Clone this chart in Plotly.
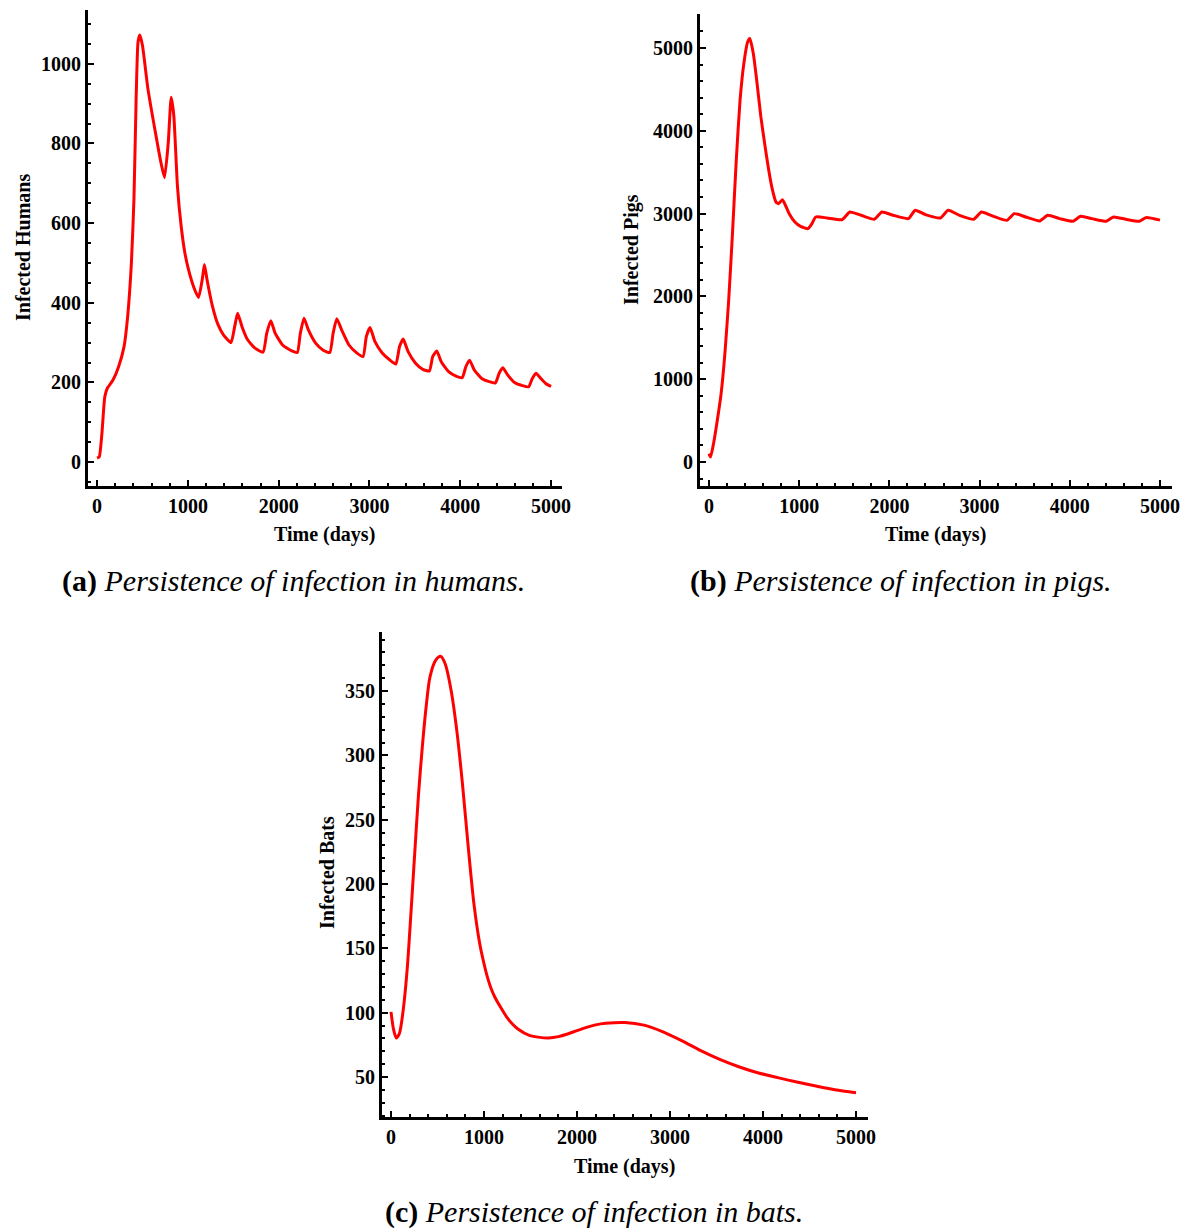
import plotly.graph_objects as go

# ---------------- data ----------------
t_humans = [0, 24, 53, 85, 114, 175, 236, 297, 337, 378, 406, 430, 451, 471, 500, 560, 642, 703, 743,
            784, 816, 845, 885, 926, 967, 1007, 1068, 1117, 1158, 1182, 1211, 1271, 1332, 1393, 1475,
            1515, 1548, 1596, 1658, 1739, 1828, 1868, 1913, 1962, 2043, 2145, 2205, 2238, 2279, 2327,
            2409, 2490, 2563, 2599, 2640, 2693, 2774, 2856, 2929, 2965, 3006, 3059, 3140, 3221, 3290,
            3331, 3371, 3424, 3505, 3587, 3660, 3696, 3741, 3790, 3871, 3952, 4021, 4062, 4102, 4155,
            4236, 4318, 4387, 4428, 4468, 4521, 4602, 4683, 4753, 4793, 4834, 4887, 4948, 5000]
infected_humans = [10, 13, 71, 164, 186, 206, 239, 290, 366, 500, 660, 912, 1055, 1072, 1046, 937, 828,
                   752, 714, 802, 916, 870, 693, 592, 525, 483, 437, 413, 458, 496, 458, 391, 345, 319,
                   300, 340, 374, 340, 307, 286, 276, 323, 355, 323, 294, 279, 275, 323, 361, 332, 298,
                   281, 275, 323, 360, 332, 294, 275, 265, 315, 338, 303, 274, 257, 246, 290, 309, 278,
                   249, 233, 229, 265, 279, 252, 227, 216, 212, 240, 256, 231, 210, 202, 199, 223, 237,
                   219, 199, 192, 189, 210, 223, 210, 196, 190]

t_pigs = [0, 17, 50, 92, 134, 176, 218, 260, 302, 344, 386, 428, 453, 491, 533, 575, 617, 659, 700, 742,
          772, 814, 847, 889, 952, 1015, 1099, 1141, 1183, 1309, 1477, 1560, 1686, 1833, 1916, 2043,
          2210, 2286, 2399, 2567, 2651, 2777, 2936, 3020, 3154, 3301, 3385, 3511, 3666, 3754, 3888,
          4035, 4119, 4245, 4404, 4484, 4622, 4769, 4845, 5000]
infected_pigs = [101, 60, 221, 503, 825, 1308, 1952, 2758, 3643, 4368, 4811, 5072, 5113, 4932, 4570,
                 4167, 3845, 3543, 3301, 3140, 3120, 3168, 3100, 2999, 2899, 2846, 2818, 2878, 2959,
                 2947, 2927, 3019, 2979, 2931, 3019, 2979, 2939, 3040, 2987, 2947, 3040, 2979, 2931,
                 3019, 2967, 2918, 2999, 2959, 2911, 2979, 2939, 2907, 2967, 2939, 2907, 2959, 2931,
                 2907, 2951, 2921]

t_bats = [0, 29, 58, 90, 131, 173, 214, 255, 296, 337, 378, 419, 481, 534, 583, 645, 706, 768, 830, 891,
          953, 1000, 1035, 1075, 1117, 1180, 1241, 1300, 1364, 1487, 1600, 1693, 1800, 1898, 2000, 2103,
          2200, 2309, 2514, 2720, 2925, 3130, 3336, 3541, 3747, 3952, 4158, 4363, 4568, 4774, 5000]
infected_bats = [100.6, 86.4, 80.3, 83.8, 102, 133, 177, 224, 270, 307, 338, 361, 374, 377, 371, 351,
                 320, 278, 229, 185, 154, 138, 128, 119, 112, 104, 97, 91.5, 87.3, 82.3, 80.8, 80.4,
                 81.4, 83.4, 86.1, 88.6, 90.5, 91.7, 92.3, 90.3, 85.1, 78.1, 70.3, 63.5, 57.8, 53.1,
                 49.5, 46.1, 43, 40.1, 37.8]

x_ticks = [0, 1000, 2000, 3000, 4000, 5000]
humans_ticks = [0, 200, 400, 600, 800, 1000]
pigs_ticks = [0, 1000, 2000, 3000, 4000, 5000]
bats_ticks = [50, 100, 150, 200, 250, 300, 350]

x_title = "Time (days)"
y_titles = ["Infected Humans", "Infected Pigs", "Infected Bats"]
captions = ["<b>(a)</b> <i>Persistence of infection in humans.</i>",
            "<b>(b)</b> <i>Persistence of infection in pigs.</i>",
            "<b>(c)</b> <i>Persistence of infection in bats.</i>"]

# ---------------- figure ----------------
W, H = 1194, 1229
RED = "#ff0000"
TICKFONT = dict(family="Liberation Serif", size=20, color="black", weight="bold")
CAPFONT = dict(family="Liberation Serif", size=30, color="black")

fig = go.Figure()
fig.add_trace(go.Scatter(x=t_humans, y=infected_humans, mode="lines",
                         line=dict(color=RED, width=3, shape="spline", smoothing=0.5),
                         xaxis="x", yaxis="y", showlegend=False))
fig.add_trace(go.Scatter(x=t_pigs, y=infected_pigs, mode="lines",
                         line=dict(color=RED, width=3, shape="spline", smoothing=0.5),
                         xaxis="x2", yaxis="y2", showlegend=False))
fig.add_trace(go.Scatter(x=t_bats, y=infected_bats, mode="lines",
                         line=dict(color=RED, width=3, shape="spline", smoothing=0.8),
                         xaxis="x3", yaxis="y3", showlegend=False))


def px_x(p):
    return p / W


def px_y(p):
    return 1 - p / H


def xaxis(dom, anchor, rng):
    return dict(domain=dom, anchor=anchor, range=rng, tickvals=x_ticks, automargin=False,
                showline=True, linecolor="black", linewidth=3, mirror=False,
                showgrid=False, zeroline=False, ticks="inside", ticklen=6, tickwidth=2,
                tickcolor="black", tickfont=TICKFONT,
                minor=dict(dtick=200, tick0=0, ticks="inside", ticklen=3, tickwidth=2,
                           tickcolor="black", showgrid=False))


def yaxis(dom, anchor, rng, tv, mdt):
    return dict(domain=dom, anchor=anchor, range=rng, tickvals=tv, automargin=False,
                showline=True, linecolor="black", linewidth=3, mirror=False,
                showgrid=False, zeroline=False, ticks="inside", ticklen=6, tickwidth=2,
                tickcolor="black", tickfont=TICKFONT,
                minor=dict(dtick=mdt, tick0=0, ticks="inside", ticklen=3, tickwidth=2,
                           tickcolor="black", showgrid=False))


fig.update_layout(
    width=W, height=H, margin=dict(l=0, r=0, t=0, b=0, autoexpand=False),
    paper_bgcolor="white", plot_bgcolor="white",
    xaxis=xaxis([px_x(88), px_x(562)], "y", [-100, 5120]),
    yaxis=yaxis([px_y(486), px_y(10)], "x", [-60, 1135], humans_ticks, 50),
    xaxis2=xaxis([px_x(700), px_x(1172)], "y2", [-100, 5133]),
    yaxis2=yaxis([px_y(486), px_y(14)], "x2", [-290, 5410], pigs_ticks, 200),
    xaxis3=xaxis([px_x(382), px_x(868)], "y3", [-97, 5129]),
    yaxis3=yaxis([px_y(1117), px_y(632)], "x3", [18.9, 395.9], bats_ticks, 10),
)

TITLEFONT = dict(family="Liberation Serif", size=20, color="black", weight="bold")
ann = []
# x-axis titles
for cx, cy in [(325, 535), (935, 535), (624, 1166)]:
    ann.append(dict(x=px_x(cx), y=px_y(cy), xref="paper", yref="paper", text=x_title,
                    showarrow=False, font=TITLEFONT, xanchor="center", yanchor="middle"))
# y-axis titles
for (cx, cy), t in zip([(23, 248), (632, 250), (327, 873)], y_titles):
    ann.append(dict(x=px_x(cx), y=px_y(cy), xref="paper", yref="paper", text=t,
                    showarrow=False, font=TITLEFONT, textangle=-90,
                    xanchor="center", yanchor="middle"))
# captions
for (cx, cy), c in zip([(293, 581), (901, 581), (594, 1212)], captions):
    ann.append(dict(x=px_x(cx), y=px_y(cy), xref="paper", yref="paper", text=c,
                    showarrow=False, font=CAPFONT, xanchor="center", yanchor="middle"))
fig.update_layout(annotations=ann)

fig.write_html("out.html")
